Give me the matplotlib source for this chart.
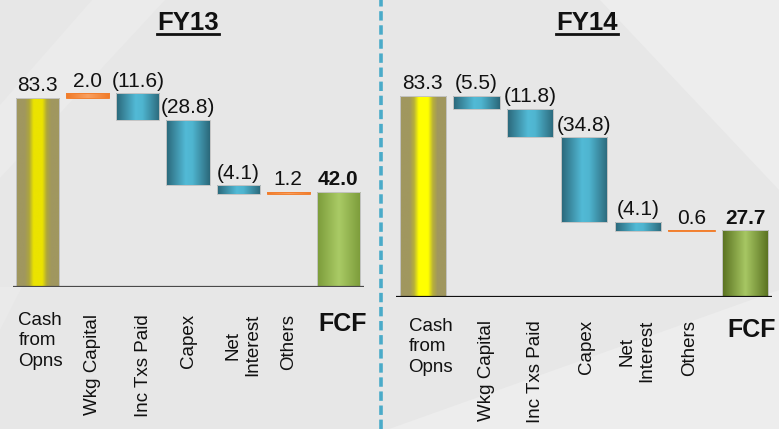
import matplotlib
matplotlib.use('Agg')
import matplotlib.pyplot as plt
import numpy as np
from matplotlib.colors import LinearSegmentedColormap
from matplotlib.patches import Polygon
from matplotlib.lines import Line2D

plt.rcParams['font.family'] = ['Liberation Sans', 'DejaVu Sans']

# ---------------- data ----------------
categories = ['Cash\nfrom\nOpns', 'Wkg Capital', 'Inc Txs Paid', 'Capex', 'Net\nInterest', 'Others', 'FCF']
fy13_values = [83.3, 2.0, -11.6, -28.8, -4.1, 1.2, 42.0]
fy14_values = [83.3, -5.5, -11.8, -34.8, -4.1, 0.6, 27.7]
panel_titles = ['FY13', 'FY14']

W, H = 779, 429
fig = plt.figure(figsize=(W / 100, H / 100), dpi=100)
fig.patch.set_facecolor('#e7e7e7')


def px(x, y):
    return (x / W, 1 - y / H)


# subtle background facets
bg_polys = [
    ([(92, 0), (165, 0), (0, 178), (0, 105)], '#ebebeb'),
    ([(0, 330), (22, 287), (0, 287)], '#eaeaea'),
    ([(600, 0), (779, 0), (779, 190)], '#ededed'),
    ([(389, 429), (779, 429), (779, 290)], '#ededed'),
]
for pts, c in bg_polys:
    fig.add_artist(Polygon([px(*p) for p in pts], closed=True, transform=fig.transFigure,
                           facecolor=c, edgecolor='none', zorder=-2))

# dashed separator
fig.add_artist(Line2D([381 / W, 381 / W], [0, 1], transform=fig.transFigure,
                      color='#4aabc9', lw=2.6, dashes=(2.6, 1.3), zorder=-1))


def cmap(stops):
    return LinearSegmentedColormap.from_list('g', stops)


blue_cm = cmap([(0, '#2a6678'), (0.45, '#52bad6'), (0.6, '#4fb5d0'), (1, '#2b687a')])
orange_cm = cmap([(0, '#f07a28'), (0.5, '#f9a060'), (1, '#f07a28')])
cash_cms = [
    cmap([(0, '#a0975f'), (0.2, '#a0975f'), (0.3, '#aea63c'), (0.4, '#ebe300'), (0.6, '#ebe300'),
          (0.7, '#aea63c'), (0.8, '#a0975f'), (1, '#a0975f')]),
    cmap([(0, '#a0975f'), (0.2, '#a0975f'), (0.3, '#b8b03a'), (0.4, '#ffff00'), (0.6, '#ffff00'),
          (0.7, '#b8b03a'), (0.8, '#a0975f'), (1, '#a0975f')]),
]
fcf_cms = [
    cmap([(0, '#7b9b3a'), (0.5, '#aacb66'), (1, '#7b9b3a')]),
    cmap([(0, '#58701f'), (0.5, '#a7c763'), (1, '#58701f')]),
]

# layout (pixels)
axes_px = [(12.5, 363.5, 287, 227.0), (396, 772, 297, 241.7)]  # x0, x1, baseline, px per 100 units
label_dy = [25, 21]
label_dx = [[3, 5, 6, 1, 5, 0, 4], [8, 10, 5, 2, -1, -2, 6]]
axis_colors = ['#4a4a4a', '#111111']
title_x = [188, 587]

grad = np.linspace(0, 1, 256).reshape(1, -1)

for p, values in enumerate([fy13_values, fy14_values]):
    x0, x1, base, h100 = axes_px[p]
    ax = fig.add_axes([x0 / W, 1 - base / H, (x1 - x0) / W, h100 / H])
    ax.set_facecolor('none')
    ax.axis('off')

    n = len(values)
    xs = np.arange(n)
    bottoms, heights, kinds = [], [], []
    running = 0.0
    for i, v in enumerate(values):
        if i == 0 or i == n - 1:
            bottoms.append(0.0)
            heights.append(v)
            kinds.append('cash' if i == 0 else 'fcf')
            running = v
        else:
            new = running + v
            bottoms.append(min(running, new))
            heights.append(abs(v))
            kinds.append('pos' if v > 0 else 'neg')
            running = new

    edge_cols = ['#f28030' if k == 'pos' else '#c4c4c4' for k in kinds]
    bars = ax.bar(xs, heights, bottom=bottoms, width=0.86, color='none',
                  edgecolor=edge_cols, linewidth=0.7, zorder=3)
    for b, k in zip(bars, kinds):
        cm = {'cash': cash_cms[p], 'fcf': fcf_cms[p], 'pos': orange_cm, 'neg': blue_cm}[k]
        ext = [b.get_x(), b.get_x() + b.get_width(), b.get_y(), b.get_y() + b.get_height()]
        im = ax.imshow(grad, extent=ext, aspect='auto', cmap=cm, interpolation='bilinear', zorder=2)
        im.set_clip_path(b)

    ax.axhline(0, color=axis_colors[p], lw=1.6, zorder=4)
    ax.set_xlim(-0.5, n - 0.5)
    ax.set_ylim(0, 100)

    # value labels
    for i, (v, b, bt, h) in enumerate(zip(values, kinds, bottoms, heights)):
        txt = f'({abs(v):.1f})' if v < 0 else f'{v:.1f}'
        ax.annotate(txt, xy=(i, bt + h), xytext=(0, 6.5), textcoords='offset pixels',
                    ha='center', va='baseline', fontsize=15, color='#111111',
                    fontweight='bold' if i == n - 1 else 'normal', annotation_clip=False)

    # category labels
    for i, cat in enumerate(categories):
        dx = label_dx[p][i]
        if i == 0:
            ax.annotate(cat, xy=(i, 0), xytext=(dx, -label_dy[p]), textcoords='offset pixels',
                        ha='center', va='top', multialignment='left', fontsize=13.5,
                        linespacing=1.25, color='#111111', annotation_clip=False)
        elif i == n - 1:
            ax.annotate(cat, xy=(i, 0), xytext=(dx, -label_dy[p]), textcoords='offset pixels',
                        ha='center', va='top', fontsize=18, fontweight='bold',
                        color='#111111', annotation_clip=False)
        else:
            ax.annotate(cat, xy=(i, 0), xytext=(dx, -label_dy[p] - 2), textcoords='offset pixels',
                        ha='center', va='top', rotation=90, multialignment='center',
                        fontsize=13.5, linespacing=1.2, color='#111111', annotation_clip=False)

    t = fig.text(title_x[p] / W, 1 - 30 / H, panel_titles[p], ha='center', va='baseline',
                 fontsize=18.5, fontweight='bold', color='#111111')
    fig.canvas.draw()
    bb = t.get_window_extent()
    fig.add_artist(Line2D([bb.x0 / W, bb.x1 / W], [1 - 33.5 / H, 1 - 33.5 / H],
                          transform=fig.transFigure, color='#111111', lw=2.0))

fig.savefig('out.png', dpi=100, facecolor=fig.get_facecolor())
